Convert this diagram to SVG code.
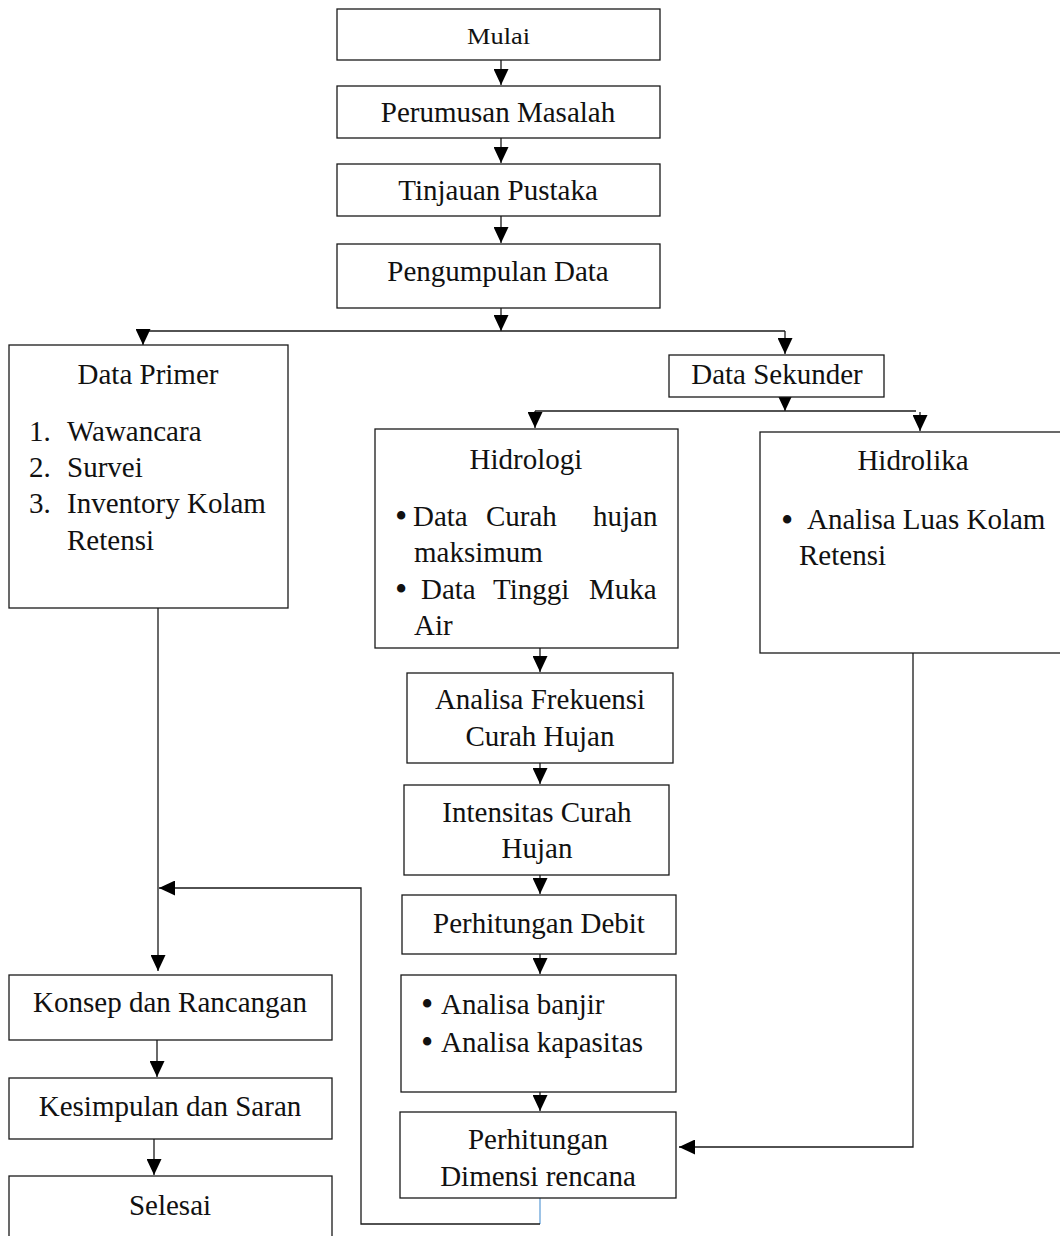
<svg xmlns="http://www.w3.org/2000/svg" width="1060" height="1236" viewBox="0 0 1060 1236">
<style>
.b{fill:#fff;stroke:#1a1a1a;stroke-width:1.3}
.t{font-family:"Liberation Serif","Times New Roman",serif;font-size:29px;fill:#111}
.c{text-anchor:middle}
.s{font-size:23px}
.u{font-size:35px}
.l{fill:none;stroke:#1a1a1a;stroke-width:1.3}
</style>
<defs>
<marker id="a" viewBox="0 0 16 15" refX="16" refY="7.5" markerWidth="16" markerHeight="15" markerUnits="userSpaceOnUse" orient="auto">
<path d="M0,0 L16,7.5 L0,15 Z" fill="#000"/>
</marker>
</defs>
<rect width="1060" height="1236" fill="#fff"/>
<g id="connectors">
<line class="l" x1="501" y1="60" x2="501" y2="85" marker-end="url(#a)"/>
<line class="l" x1="501" y1="138" x2="501" y2="163" marker-end="url(#a)"/>
<line class="l" x1="501" y1="216" x2="501" y2="243" marker-end="url(#a)"/>
<line class="l" x1="501" y1="308" x2="501" y2="331" marker-end="url(#a)"/>
<line class="l" x1="143" y1="331" x2="785" y2="331"/>
<line class="l" x1="143" y1="331" x2="143" y2="345" marker-end="url(#a)"/>
<line class="l" x1="785" y1="331" x2="785" y2="354" marker-end="url(#a)"/>
<line class="l" x1="785" y1="397" x2="785" y2="411" marker-end="url(#a)"/>
<line class="l" x1="535" y1="411" x2="916" y2="411"/>
<line class="l" x1="535" y1="411" x2="535" y2="428" marker-end="url(#a)"/>
<line class="l" x1="920" y1="412" x2="920" y2="431" marker-end="url(#a)"/>
<line class="l" x1="540" y1="648" x2="540" y2="672" marker-end="url(#a)"/>
<line class="l" x1="540" y1="763" x2="540" y2="784" marker-end="url(#a)"/>
<line class="l" x1="540" y1="875" x2="540" y2="894" marker-end="url(#a)"/>
<line class="l" x1="540" y1="954" x2="540" y2="974" marker-end="url(#a)"/>
<line class="l" x1="540" y1="1092" x2="540" y2="1111" marker-end="url(#a)"/>
<polyline class="l" points="913,653 913,1147 679,1147" marker-end="url(#a)"/>
<line class="l" x1="158" y1="608" x2="158" y2="971" marker-end="url(#a)"/>
<line x1="540" y1="1198" x2="540" y2="1224" stroke="#5b9bd5" stroke-width="1.2"/>
<polyline class="l" points="540,1224 361,1224 361,888 159,888" marker-end="url(#a)"/>
<line class="l" x1="157" y1="1040" x2="157" y2="1077" marker-end="url(#a)"/>
<line class="l" x1="154" y1="1139" x2="154" y2="1175" marker-end="url(#a)"/>
</g>
<g id="mulai"><rect class="b" x="337" y="9" width="323" height="51"/><text class="t s" x="467" y="44" textLength="63" lengthAdjust="spacingAndGlyphs">Mulai</text></g>
<g id="perumusan"><rect class="b" x="337" y="86" width="323" height="52"/><text class="t c" x="498" y="122">Perumusan Masalah</text></g>
<g id="tinjauan"><rect class="b" x="337" y="164" width="323" height="52"/><text class="t c" x="498" y="200">Tinjauan Pustaka</text></g>
<g id="pengumpulan"><rect class="b" x="337" y="244" width="323" height="64"/><text class="t c" x="498" y="281">Pengumpulan Data</text></g>
<g id="primer"><rect class="b" x="9" y="345" width="279" height="263"/>
<text class="t c" x="148" y="384">Data Primer</text>
<text class="t" x="29" y="441">1.</text><text class="t" x="67" y="441">Wawancara</text>
<text class="t" x="29" y="477">2.</text><text class="t" x="67" y="477">Survei</text>
<text class="t" x="29" y="513">3.</text><text class="t" x="67" y="513">Inventory Kolam</text>
<text class="t" x="67" y="550">Retensi</text>
</g>
<g id="sekunder"><rect class="b" x="669" y="355" width="215" height="42"/><text class="t c" x="777" y="384">Data Sekunder</text></g>
<g id="hidrologi"><rect class="b" x="375" y="429" width="303" height="219"/>
<text class="t c" x="526" y="469">Hidrologi</text>
<text class="t u" x="395" y="528">•</text><text class="t" x="413" y="526">Data</text><text class="t" x="486" y="526">Curah</text><text class="t" x="593" y="526">hujan</text>
<text class="t" x="414" y="562">maksimum</text>
<text class="t u" x="395" y="601">•</text><text class="t" x="421" y="599">Data</text><text class="t" x="493" y="599">Tinggi</text><text class="t" x="589" y="599">Muka</text>
<text class="t" x="414" y="635">Air</text>
</g>
<g id="hidrolika"><rect class="b" x="760" y="432" width="310" height="221"/>
<text class="t c" x="913" y="470">Hidrolika</text>
<text class="t u" x="781" y="532">•</text><text class="t" x="807" y="529">Analisa Luas Kolam</text>
<text class="t" x="799" y="565">Retensi</text>
</g>
<g id="frekuensi"><rect class="b" x="407" y="673" width="266" height="90"/>
<text class="t c" x="540" y="709">Analisa Frekuensi</text><text class="t c" x="540" y="746">Curah Hujan</text></g>
<g id="intensitas"><rect class="b" x="404" y="785" width="265" height="90"/>
<text class="t c" x="537" y="822">Intensitas Curah</text><text class="t c" x="537" y="858">Hujan</text></g>
<g id="debit"><rect class="b" x="402" y="895" width="274" height="59"/><text class="t c" x="539" y="933">Perhitungan Debit</text></g>
<g id="analisa"><rect class="b" x="401" y="975" width="275" height="117"/>
<text class="t u" x="421" y="1016">•</text><text class="t" x="441" y="1014">Analisa banjir</text>
<text class="t u" x="421" y="1054">•</text><text class="t" x="441" y="1052">Analisa kapasitas</text></g>
<g id="dimensi"><rect class="b" x="400" y="1112" width="276" height="86"/>
<text class="t c" x="538" y="1149">Perhitungan</text><text class="t c" x="538" y="1186">Dimensi rencana</text></g>
<g id="konsep"><rect class="b" x="9" y="975" width="323" height="65"/><text class="t c" x="170" y="1012">Konsep dan Rancangan</text></g>
<g id="kesimpulan"><rect class="b" x="9" y="1078" width="323" height="61"/><text class="t c" x="170" y="1116">Kesimpulan dan Saran</text></g>
<g id="selesai"><rect class="b" x="9" y="1176" width="323" height="70"/><text class="t c" x="170" y="1215">Selesai</text></g>
</svg>
